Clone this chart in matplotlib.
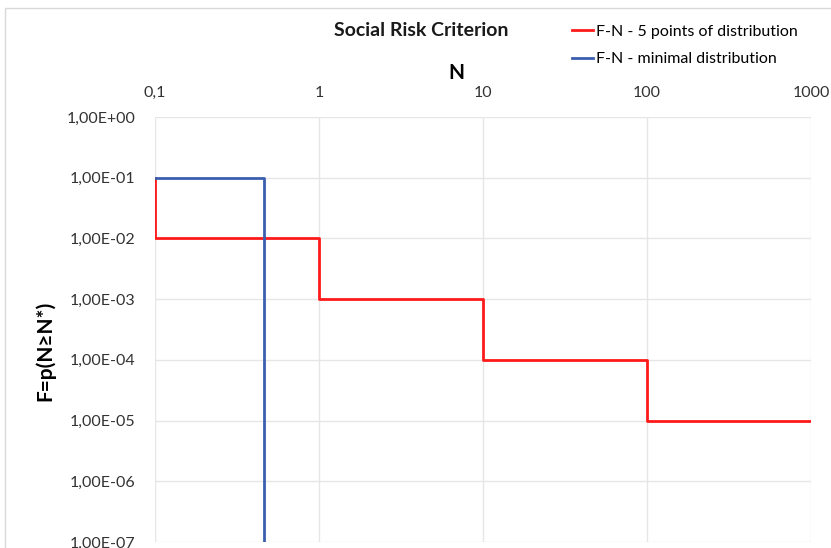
import numpy as np
import matplotlib
matplotlib.use("Agg")
import matplotlib.pyplot as plt
from matplotlib.patches import Rectangle
from matplotlib.ticker import FixedLocator, FixedFormatter, NullLocator

plt.rcParams['font.family'] = ['Lato', 'DejaVu Sans']

# F-N curve, 5 points of distribution (step curve)
fn5_n = [0.1, 0.1, 1, 1, 10, 10, 100, 100, 1000]
fn5_f = [1e-1, 1e-2, 1e-2, 1e-3, 1e-3, 1e-4, 1e-4, 1e-5, 1e-5]

# F-N curve, minimal distribution
fnmin_n = [0.1, 0.46, 0.46]
fnmin_f = [1e-1, 1e-1, 1e-7]

x_ticks = [0.1, 1, 10, 100, 1000]
x_labels = ["0,1", "1", "10", "100", "1000"]
y_ticks = [1e0, 1e-1, 1e-2, 1e-3, 1e-4, 1e-5, 1e-6, 1e-7]
y_labels = ["1,00E+00", "1,00E-01", "1,00E-02", "1,00E-03",
            "1,00E-04", "1,00E-05", "1,00E-06", "1,00E-07"]

fig = plt.figure(figsize=(8.31, 5.48), dpi=100)
ax = fig.add_axes([155/831, 1-542/548, (811-155)/831, (542-117)/548])

ax.set_xscale('log')
ax.set_yscale('log')
ax.set_xlim(0.1, 1000)
ax.set_ylim(1e-7, 1)

line_red, = ax.plot(fn5_n, fn5_f, color='#ff1a1a', lw=2, label="F-N - 5 points of distribution")
line_blue, = ax.plot(fnmin_n, fnmin_f, color='#3b5fae', lw=2, label="F-N - minimal distribution")

ax.xaxis.set_major_locator(FixedLocator(x_ticks))
ax.xaxis.set_major_formatter(FixedFormatter(x_labels))
ax.xaxis.set_minor_locator(NullLocator())
ax.yaxis.set_major_locator(FixedLocator(y_ticks))
ax.yaxis.set_major_formatter(FixedFormatter(y_labels))
ax.yaxis.set_minor_locator(NullLocator())

ax.xaxis.tick_top()
ax.xaxis.set_label_position('top')
ax.tick_params(length=0, labelsize=11.5, colors='#333333')
ax.tick_params(axis='x', pad=12)
ax.tick_params(axis='y', pad=14)
ax.grid(True, color='#e6e6e6', lw=1)
for s in ax.spines.values():
    s.set_visible(False)

ax.set_xlabel("N", fontsize=15, fontweight='bold', va='center')
ax.xaxis.set_label_coords((456-155)/656, (542-73)/425)
ax.set_ylabel("F=p(N≥N*)", fontsize=15, fontweight='bold', va='center')
ax.yaxis.set_label_coords((45-155)/656, (542-351)/425)

fig.text(421/831, 1-31/548, "Social Risk Criterion", ha='center', va='center',
         fontsize=14, fontweight='bold', color='#1a1a1a')

fig.legend(handles=[line_red, line_blue], loc='upper left',
           bbox_to_anchor=(566/831, 1-18/548), frameon=False, fontsize=11.5,
           handlelength=1.3, handletextpad=0.2, labelspacing=0.85,
           borderaxespad=0)

fig.patches.append(Rectangle((5/831, -0.01), 1.02, 1-8/548+0.01, transform=fig.transFigure,
                             fill=False, edgecolor='#d9d9d9', lw=1))

fig.savefig("out.png", dpi=100)
